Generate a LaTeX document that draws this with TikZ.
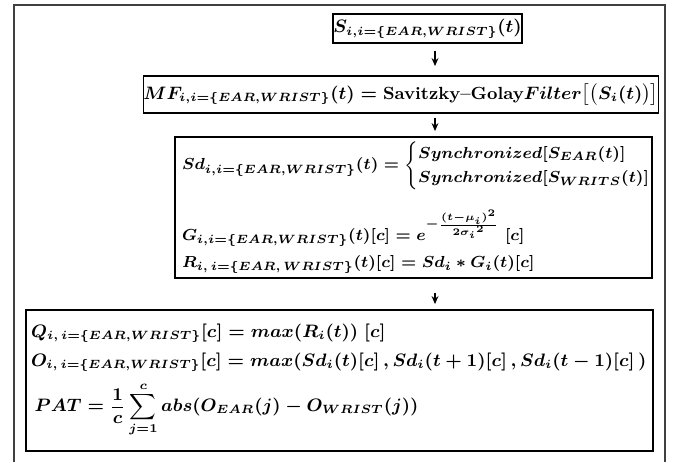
\documentclass[tikz,border=0pt]{standalone}
\usepackage{amsmath}
\usetikzlibrary{arrows.meta}

\begin{document}
\begin{tikzpicture}[x=0.5pt, y=-0.5pt,
  stage/.style={draw, line width=0.9pt, inner sep=0pt,
    font=\boldmath\bfseries\fontsize{8.8}{14}\selectfont},
  flow/.style={-{Stealth[length=4pt,width=3.4pt]}, line width=0.7pt}]
\useasboundingbox (0,0) rectangle (683,462);
% page frame, open at the bottom
\draw[line width=0.8pt, black!75] (14,462) -- (14,5) -- (665,5) -- (665,462);
\coordinate (axis) at (435,0);

% raw signals
\node[stage, minimum width=87.5pt, minimum height=14.5pt] (sig) at (427.5,28.5)
  {$S_{i,i=\{EAR,WRIST\}}(t)$};
% smoothing
\node[stage, minimum width=251pt, minimum height=18.5pt] (mf) at (401,94.5)
  {$MF_{i,i=\{EAR,WRIST\}}(t)=\text{Savitzky--Golay}Filter\big[\big(S_i(t)\big)\big]$};
% sync, gaussian weighting (cases rows kept tight)
\node[stage, font=\boldmath\bfseries\fontsize{8.4}{13.5}\selectfont,
  minimum height=70.5pt, text width=231.5pt, inner xsep=3.5pt, align=left]
  (sync) at (413.5,207.5)
  {\mbox{\fontsize{8.4}{10.2}\selectfont$Sd_{i,i=\{EAR,WRIST\}}(t) = \begin{cases} Synchronized[S_{EAR}(t)]\\ Synchronized[S_{WRITS}(t)]\end{cases}$}\\[9pt]
   $G_{i,i=\{EAR,WRIST\}}(t)[c] = e^{-\frac{(t-\mu_i)^2}{2{\sigma_i}^2}}\;[c]$\\
   $R_{i,\,i=\{EAR,\,WRIST\}}(t)[c] = Sd_i * G_i(t)[c]$};
% peaks and PAT
\node[stage, font=\boldmath\bfseries\fontsize{8.8}{14.5}\selectfont,
  minimum height=70.5pt, text width=308.5pt, inner xsep=2.5pt, align=left]
  (pat) at (339.5,380.5)
  {$Q_{i,\,i=\{EAR,WRIST\}}[c] = max(R_i(t))\;[c]$\\
   \mbox{$O_{i,\,i=\{EAR,WRIST\}}[c] = max(Sd_i(t)[c]\,,Sd_i(t+1)[c]\,,Sd_i(t-1)[c]\,)$}\\[4pt]
   $\displaystyle\,PAT = \frac{1}{c}\sum_{j=1}^{c} abs(O_{EAR}(j) - O_{WRIST}(j))$};

\draw[flow, shorten <=3.5pt, shorten >=4.5pt] (sig.south -| axis) -- (mf.north -| axis);
\draw[flow, shorten <=2pt, shorten >=2.5pt] (mf.south -| axis) -- (sync.north -| axis);
\draw[flow, shorten <=7pt, shorten >=2.5pt] (sync.south -| axis) -- (pat.north -| axis);
\end{tikzpicture}
\end{document}
